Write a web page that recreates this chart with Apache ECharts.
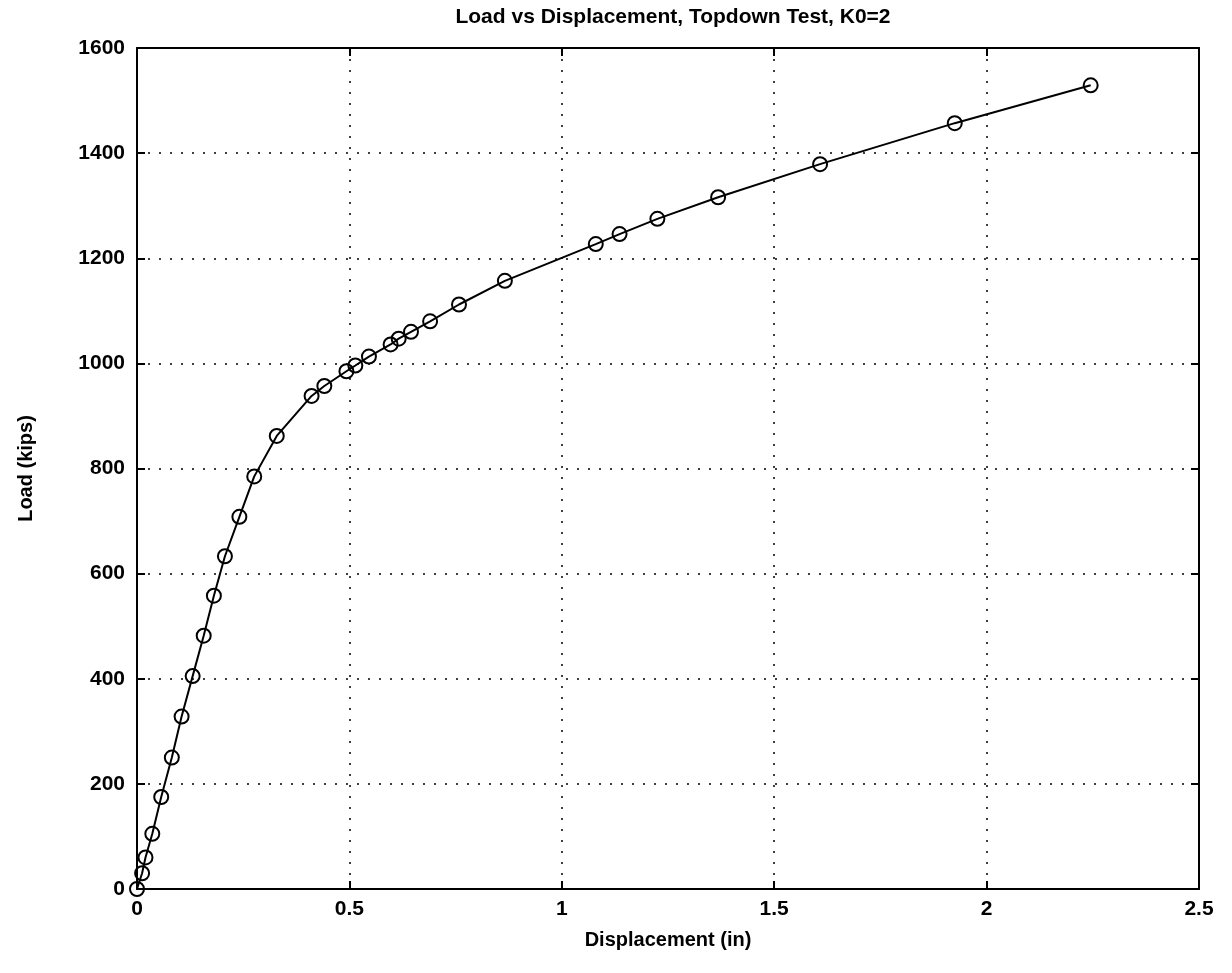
<!DOCTYPE html>
<html>
<head>
<meta charset="utf-8">
<script src="https://cdn.jsdelivr.net/npm/echarts@6/dist/echarts.min.js"></script>
<style>html,body{margin:0;padding:0;background:#fff;}#c{width:1232px;height:973px;}</style>
</head>
<body>
<div id="c"></div>
<script>
const titleText = "Load vs Displacement, Topdown Test, K0=2";
const xName = "Displacement (in)";
const yName = "Load (kips)";
const displacement = [0, 0.012, 0.020, 0.036, 0.057, 0.082, 0.105, 0.131, 0.157, 0.181, 0.207, 0.241, 0.276, 0.329, 0.411, 0.441, 0.493, 0.514, 0.546, 0.597, 0.616, 0.645, 0.690, 0.758, 0.866, 1.080, 1.136, 1.225, 1.368, 1.608, 1.925, 2.245];
const load = [0, 30, 60, 105, 175, 250, 328, 405, 482, 558, 633, 708, 785, 862, 938, 957, 985, 996, 1013, 1036, 1047, 1060, 1080, 1112, 1157, 1227, 1246, 1275, 1316, 1379, 1457, 1529];
const xTicks = [0, 0.5, 1, 1.5, 2, 2.5];
const yTicks = [0, 200, 400, 600, 800, 1000, 1200, 1400, 1600];

const font = "Liberation Sans, Arial, Helvetica, sans-serif";
const points = displacement.map((d, i) => [d, load[i]]);
const chart = echarts.init(document.getElementById('c'));
const baseX = {
  type: 'value', min: xTicks[0], max: xTicks[xTicks.length - 1], interval: xTicks[1] - xTicks[0]
};
const baseY = {
  type: 'value', min: yTicks[0], max: yTicks[yTicks.length - 1], interval: yTicks[1] - yTicks[0]
};
const gridL = 137, gridR = 33, gridT = 48, gridB = 84;
chart.setOption({
  animation: false,
  backgroundColor: '#fff',
  title: {
    text: titleText, left: gridL + (1232 - gridL - gridR) / 2, textAlign: 'center', top: 2,
    textStyle: { fontFamily: font, fontWeight: 'bold', fontSize: 21, color: '#000' }
  },
  grid: { left: gridL, right: gridR, top: gridT, bottom: gridB, show: false },
  xAxis: [
    Object.assign({}, baseX, {
      position: 'bottom',
      name: xName, nameLocation: 'middle', nameGap: 41,
      nameTextStyle: { fontFamily: font, fontWeight: 'bold', fontSize: 20, color: '#000' },
      axisLine: { show: true, onZero: false, lineStyle: { color: '#000', width: 2 } },
      axisTick: { show: true, inside: true, length: 8, lineStyle: { color: '#000', width: 2 } },
      axisLabel: { show: true, margin: 10, fontFamily: font, fontWeight: 'bold', fontSize: 21, color: '#000',
        formatter: v => String(v) },
      splitLine: { show: true, lineStyle: { color: '#000', width: 1.5, type: [2, 9] } }
    }),
    Object.assign({}, baseX, {
      position: 'top',
      axisLine: { show: true, onZero: false, lineStyle: { color: '#000', width: 2 } },
      axisTick: { show: true, inside: true, length: 8, lineStyle: { color: '#000', width: 2 } },
      axisLabel: { show: false },
      splitLine: { show: false }
    })
  ],
  yAxis: [
    Object.assign({}, baseY, {
      position: 'left',
      name: yName, nameLocation: 'middle', nameGap: 101, nameRotate: 90,
      nameTextStyle: { fontFamily: font, fontWeight: 'bold', fontSize: 20, color: '#000' },
      axisLine: { show: true, onZero: false, lineStyle: { color: '#000', width: 2 } },
      axisTick: { show: true, inside: true, length: 8, lineStyle: { color: '#000', width: 2 } },
      axisLabel: { show: true, margin: 12, fontFamily: font, fontWeight: 'bold', fontSize: 21, color: '#000',
        formatter: v => String(v) },
      splitLine: { show: true, lineStyle: { color: '#000', width: 1.5, type: [2, 9] } }
    }),
    Object.assign({}, baseY, {
      position: 'right',
      axisLine: { show: true, onZero: false, lineStyle: { color: '#000', width: 2 } },
      axisTick: { show: true, inside: true, length: 8, lineStyle: { color: '#000', width: 2 } },
      axisLabel: { show: false },
      splitLine: { show: false }
    })
  ],
  series: [{
    type: 'line',
    xAxisIndex: 0, yAxisIndex: 0,
    data: points,
    clip: false,
    symbol: 'circle',
    symbolSize: 14,
    lineStyle: { color: '#000', width: 2 },
    itemStyle: { color: 'rgba(0,0,0,0)', borderColor: '#000', borderWidth: 2 }
  }]
});
</script>
</body>
</html>
